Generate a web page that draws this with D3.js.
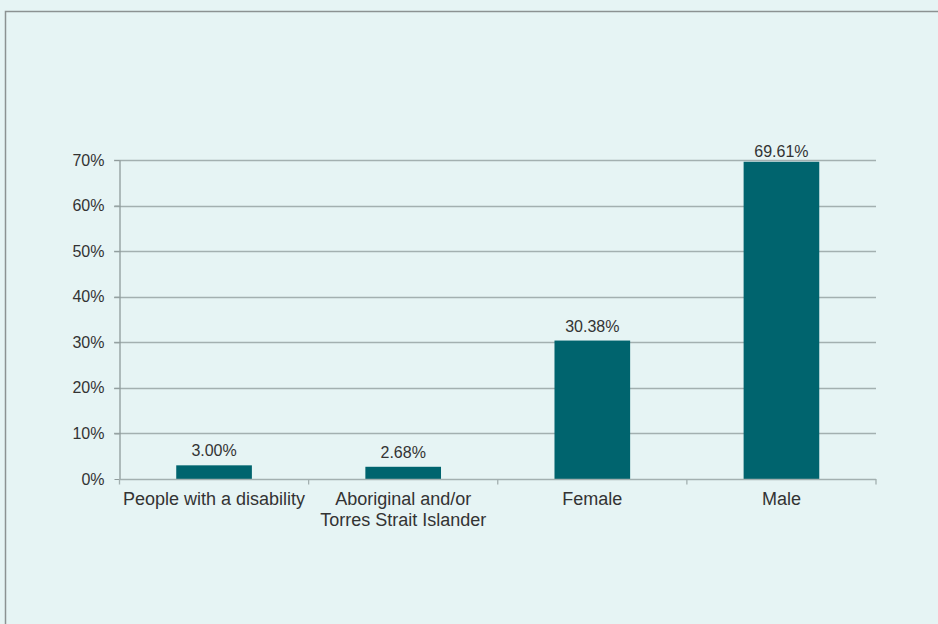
<!DOCTYPE html>
<html><head><meta charset="utf-8">
<script src="https://cdn.jsdelivr.net/npm/d3@7"></script>
<style>
html,body{margin:0;padding:0;background:#e6f4f4;overflow:hidden;}
svg{display:block;font-family:"Liberation Sans",Arial,sans-serif;}
</style></head>
<body>
<svg id="chart" width="938" height="624"></svg>
<script>
const categories = ["People with a disability", "Aboriginal and/or\nTorres Strait Islander", "Female", "Male"];
const values = [3.00, 2.68, 30.38, 69.61];
const valueLabels = ["3.00%", "2.68%", "30.38%", "69.61%"];
const yTicks = [0, 10, 20, 30, 40, 50, 60, 70];

(function () {
const svg = d3.select("#chart");
const W = 938, H = 624;
svg.append("rect").attr("width", W).attr("height", H).attr("fill", "#e6f4f4");
svg.append("rect").attr("x", 5.5).attr("y", 11.5).attr("width", 1200).attr("height", 1200)
  .attr("fill", "none").attr("stroke", "#8c9292").attr("stroke-width", 1.5);

const pLeft = 119.5, pRight = 876, pTop = 160, pBottom = 479;
const x = d3.scaleBand().domain(categories).range([pLeft, pRight]).paddingInner(0.6).paddingOuter(0.3);
const y = d3.scaleLinear().domain([0, 70]).range([pBottom, pTop]);

// gridlines
svg.append("g").selectAll("line").data(yTicks.filter(t => t > 0)).join("line")
  .attr("x1", 114).attr("x2", pRight)
  .attr("y1", d => Math.round(y(d)) + 0.5).attr("y2", d => Math.round(y(d)) + 0.5)
  .attr("stroke", "#a3b0b0").attr("stroke-width", 1.3);

// y axis
const yAxis = svg.append("g").attr("transform", `translate(${pLeft},0)`)
  .call(d3.axisLeft(y).tickValues(yTicks).tickFormat(d => d + "%").tickSize(5).tickSizeOuter(0).tickPadding(10));
yAxis.select(".domain").attr("stroke", "#8f9b9b").attr("stroke-width", 1.3);
yAxis.selectAll(".tick line").attr("stroke", "#8f9b9b");
yAxis.selectAll("text").attr("font-size", "16px").attr("fill", "#333").attr("font-family", "Liberation Sans, Arial, sans-serif");

// bars
svg.append("g").selectAll("rect").data(values).join("rect")
  .attr("x", (d, i) => x(categories[i]))
  .attr("width", x.bandwidth())
  .attr("y", d => y(d))
  .attr("height", d => pBottom - y(d))
  .attr("fill", "#00646e");

// x axis baseline and ticks
const step = (pRight - pLeft) / categories.length;
svg.append("line").attr("x1", pLeft).attr("x2", pRight).attr("y1", pBottom + 0.5).attr("y2", pBottom + 0.5)
  .attr("stroke", "#a3b0b0").attr("stroke-width", 1.3);
const boundaries = d3.range(categories.length + 1).map(i => pLeft + i * step);
svg.append("g").selectAll("line").data(boundaries).join("line")
  .attr("x1", d => d).attr("x2", d => d).attr("y1", pBottom).attr("y2", pBottom + 5.5)
  .attr("stroke", "#a3b0b0").attr("stroke-width", 1.3);

// value labels
svg.append("g").selectAll("text").data(values).join("text")
  .attr("x", (d, i) => x(categories[i]) + x.bandwidth() / 2)
  .attr("y", d => Math.max(y(d) - 9, 157))
  .attr("text-anchor", "middle").attr("font-size", "16px").attr("fill", "#333")
  .text((d, i) => valueLabels[i]);

// category labels
const cat = svg.append("g").selectAll("text").data(categories).join("text")
  .attr("x", d => x(d) + x.bandwidth() / 2)
  .attr("y", 505)
  .attr("text-anchor", "middle").attr("font-size", "18px").attr("fill", "#333");
cat.each(function(d) {
  const lines = d.split("\n");
  const t = d3.select(this);
  lines.forEach((l, k) => t.append("tspan").attr("x", t.attr("x")).attr("dy", k === 0 ? 0 : 20.5).text(l));
});
})();
</script>
</body></html>
